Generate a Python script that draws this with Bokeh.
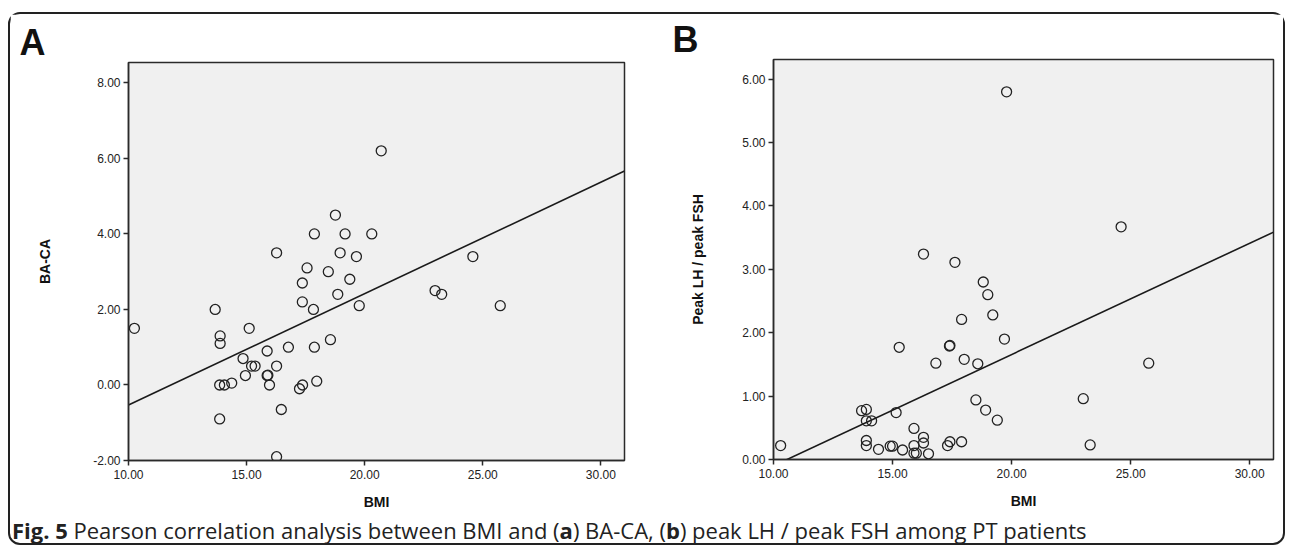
import numpy as np
from bokeh.plotting import figure
from bokeh.layouts import row, column
from bokeh.models import Range1d, FixedTicker, PrintfTickFormatter, Div
from bokeh.embed import file_html
from bokeh.resources import INLINE

# ---- data ----
bmi_a = [20.7, 18.76, 17.87, 19.17, 20.3, 16.27, 18.96, 19.65, 24.58, 17.56,
         18.46, 19.37, 17.36, 22.98, 23.26, 18.86, 17.36, 17.83, 19.77, 25.74,
         13.67, 10.25, 15.11, 13.88, 13.88, 18.55, 15.87, 16.77, 17.87, 14.85,
         15.21, 15.36, 16.27, 14.95, 15.87, 15.9, 13.86, 14.06, 14.37, 15.97,
         17.37, 17.24, 17.97, 16.47, 13.86, 16.27]
ba_ca = [6.2, 4.5, 4.0, 4.0, 4.0, 3.5, 3.5, 3.4, 3.4, 3.1,
         3.0, 2.8, 2.7, 2.5, 2.4, 2.4, 2.2, 2.0, 2.1, 2.1,
         2.0, 1.5, 1.5, 1.3, 1.1, 1.2, 0.9, 1.0, 1.0, 0.7,
         0.5, 0.5, 0.5, 0.25, 0.25, 0.26, 0.0, 0.0, 0.05, 0.0,
         0.0, -0.1, 0.1, -0.65, -0.9, -1.9]

bmi_b = [19.79, 24.6, 16.3, 17.62, 18.81, 19.0, 19.21, 17.9, 19.7, 15.28,
         17.39, 17.41, 18.01, 16.82, 18.58, 25.76, 18.5, 23.01, 18.91, 19.4,
         13.7, 13.9, 13.9, 14.12, 15.15, 15.9, 16.3, 16.3, 13.9, 13.9,
         14.41, 14.9, 15.0, 15.42, 15.9, 15.9, 16.0, 16.51, 17.31, 17.41,
         17.9, 10.3, 23.3]
lh_fsh = [5.8, 3.67, 3.24, 3.11, 2.8, 2.6, 2.28, 2.21, 1.9, 1.77,
          1.79, 1.80, 1.58, 1.52, 1.51, 1.52, 0.94, 0.96, 0.78, 0.62,
          0.77, 0.79, 0.61, 0.61, 0.74, 0.49, 0.35, 0.26, 0.30, 0.22,
          0.16, 0.21, 0.21, 0.15, 0.22, 0.10, 0.10, 0.09, 0.22, 0.28,
          0.28, 0.22, 0.23]

x_ticks = [10, 15, 20, 25, 30]
ya_ticks = [-2, 0, 2, 4, 6, 8]
yb_ticks = [0, 1, 2, 3, 4, 5, 6]

FONT = "Liberation Sans"
INK = "#2a2a2a"


def make_panel(width, height, bl, br, bt, bb, xr, yr, yticks, xs, ys,
               ylab, ystandoff, letter, loff):
    p = figure(width=width, height=height, title=letter,
               x_range=Range1d(*xr), y_range=Range1d(*yr),
               output_backend="svg", toolbar_location=None,
               min_border_left=bl, min_border_right=br,
               min_border_top=bt, min_border_bottom=bb)
    p.background_fill_color = "#f0f0f0"
    p.border_fill_color = "white"
    p.outline_line_color = INK
    p.outline_line_width = 1.5
    p.grid.visible = False

    p.title.align = "left"
    p.title.offset = loff
    p.title.standoff = 0
    p.title.text_font = FONT
    p.title.text_font_size = "36px"
    p.title.text_font_style = "bold"
    p.title.text_color = "#111"

    p.xaxis.ticker = FixedTicker(ticks=x_ticks)
    p.yaxis.ticker = FixedTicker(ticks=yticks)
    for ax in (p.xaxis[0], p.yaxis[0]):
        ax.formatter = PrintfTickFormatter(format="%.2f")
        ax.axis_line_color = INK
        ax.axis_line_width = 1.5
        ax.major_tick_line_color = INK
        ax.major_tick_line_width = 1.5
        ax.major_tick_out = 5
        ax.major_tick_in = 0
        ax.minor_tick_out = 0
        ax.minor_tick_in = 0
        ax.major_label_text_font = FONT
        ax.major_label_text_font_size = "12px"
        ax.major_label_text_color = "#222"
        ax.axis_label_text_font = FONT
        ax.axis_label_text_font_size = "14px"
        ax.axis_label_text_font_style = "bold"
        ax.axis_label_text_color = "#111"
    p.xaxis.axis_label = "BMI"
    p.xaxis.major_label_standoff = 4
    p.xaxis.axis_label_standoff = 12
    p.yaxis.axis_label = ylab
    p.yaxis.major_label_standoff = 3
    p.yaxis.axis_label_standoff = ystandoff

    coef = np.polyfit(xs, ys, 1)
    xl = np.array(xr, dtype=float)
    p.line(xl, np.polyval(coef, xl), line_color="#1a1a1a", line_width=1.6)
    p.scatter(xs, ys, marker="circle", size=10, fill_color=None,
              line_color="#222", line_width=1.3)
    return p


pa = make_panel(650, 501, 118, 36, 48, 55, (10, 31.0), (-2.0, 8.54),
                ya_ticks, bmi_a, ba_ca, "BA-CA", 37, "A", -109)
pb = make_panel(623, 501, 113, 10, 45, 56, (10, 31.0), (0.0, 6.31),
                yb_ticks, bmi_b, lh_fsh, "Peak LH / peak FSH", 33, "B", -101)

cap = Div(text="<b>Fig. 5</b> Pearson correlation analysis between BMI and "
               "(<b>a</b>) BA-CA, (<b>b</b>) peak LH / peak FSH among PT patients",
          width=1273, height=28, margin=0,
          styles={"font-family": "Open Sans", "font-size": "22px",
                  "color": "#222", "padding-left": "2px", "line-height": "30px"})

layout = column(row(column(pa), column(pb)), cap, margin=(12, 0, 0, 8),
                styles={"border": "2px solid #222", "border-radius": "12px"})

open("out.html", "w").write(file_html(layout, INLINE))
